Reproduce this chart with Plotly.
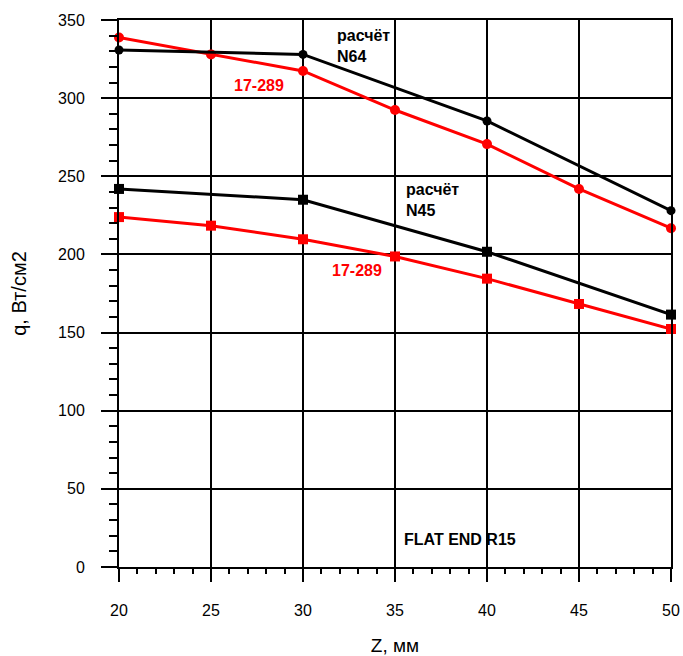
import plotly.graph_objects as go

z_calc = [20, 30, 40, 50]
q_n64 = [330.8, 328.0, 285.4, 228.0]
q_n45 = [241.9, 235.0, 201.7, 161.5]

z_exp = [20, 25, 30, 35, 40, 45, 50]
q_exp_top = [338.8, 328.0, 317.4, 292.4, 270.6, 241.9, 216.8]
q_exp_bot = [223.9, 218.4, 209.7, 198.7, 184.5, 168.3, 152.3]

x_ticks = [20, 25, 30, 35, 40, 45, 50]
y_ticks = [0, 50, 100, 150, 200, 250, 300, 350]

FONT = "Liberation Sans, Arial, sans-serif"

fig = go.Figure()
fig.add_trace(go.Scatter(x=z_exp, y=q_exp_top, mode="lines+markers",
                         line=dict(color="#ff0000", width=3),
                         marker=dict(symbol="circle", size=10, color="#ff0000"),
                         cliponaxis=False, showlegend=False))
fig.add_trace(go.Scatter(x=z_calc, y=q_n64, mode="lines+markers",
                         line=dict(color="black", width=3),
                         marker=dict(symbol="circle", size=9, color="black"),
                         cliponaxis=False, showlegend=False))
fig.add_trace(go.Scatter(x=z_exp, y=q_exp_bot, mode="lines+markers",
                         line=dict(color="#ff0000", width=3),
                         marker=dict(symbol="square", size=10, color="#ff0000"),
                         cliponaxis=False, showlegend=False))
fig.add_trace(go.Scatter(x=z_calc, y=q_n45, mode="lines+markers",
                         line=dict(color="black", width=3),
                         marker=dict(symbol="square", size=10, color="black"),
                         cliponaxis=False, showlegend=False))

ann_font_b = dict(family=FONT, size=16, color="black")
ann_font_r = dict(family=FONT, size=16, color="#ff0000")
anns = [
    dict(x=31.74, y=333.4, text="<b>расчёт<br>N64</b>", font=ann_font_b),
    dict(x=26.14, y=308.4, text="<b>17-289</b>", font=ann_font_r),
    dict(x=35.49, y=234.8, text="<b>расчёт<br>N45</b>", font=ann_font_b),
    dict(x=31.47, y=190.0, text="<b>17-289</b>", font=ann_font_r),
    dict(x=35.38, y=17.9, text="<b>FLAT END R15</b>", font=dict(family=FONT, size=16, color="black")),
]
for a in anns:
    fig.add_annotation(xref="x", yref="y", showarrow=False, xanchor="left",
                       yanchor="middle", align="left", **a)

fig.update_layout(
    width=683, height=656,
    margin=dict(l=119, r=12, t=20, b=89, autoexpand=False),
    paper_bgcolor="white", plot_bgcolor="white",
    font=dict(family=FONT, size=16, color="black"),
    xaxis=dict(range=[20, 50], tickvals=x_ticks, showgrid=True, gridcolor="black",
               gridwidth=1.5, showline=True, linecolor="black", linewidth=2, mirror=True,
               ticks="outside", ticklen=13, tickwidth=1.5, tickcolor="black",
               ticklabelstandoff=15, zeroline=False, automargin=False,
               tickfont=dict(size=16),
               minor=dict(dtick=1, ticks="outside", ticklen=5, tickwidth=1.5,
                          tickcolor="black", showgrid=False),
               title=dict(text="Z, мм", font=dict(size=19), standoff=28)),
    yaxis=dict(range=[0, 350], tickvals=y_ticks, showgrid=True, gridcolor="black",
               gridwidth=1.5, showline=True, linecolor="black", linewidth=2, mirror=True,
               ticks="outside", ticklen=16, tickwidth=1.5, tickcolor="black",
               ticklabelstandoff=13, zeroline=False, automargin=False,
               tickfont=dict(size=16),
               minor=dict(dtick=10, ticks="outside", ticklen=8, tickwidth=1.5,
                          tickcolor="black", showgrid=False),
               title=dict(text="q, Вт/см2", font=dict(size=20), standoff=26)),
)

fig.write_html("out.html", config={"displayModeBar": False},
               post_script="document.body.style.margin='0';document.body.style.overflow='hidden';")
